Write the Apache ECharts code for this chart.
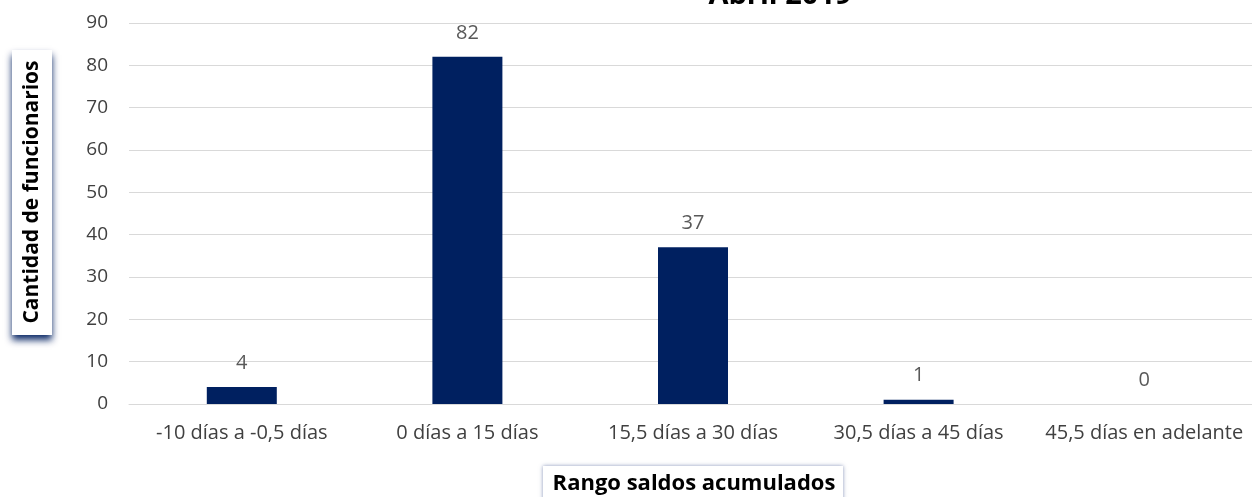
<!DOCTYPE html>
<html><head><meta charset="utf-8">
<script src="https://cdn.jsdelivr.net/npm/echarts@6/dist/echarts.min.js"></script>
<style>html,body{margin:0;padding:0;background:#fff}#c{width:1252px;height:497px}</style>
</head><body><div id="c"></div>
<script>
const categories = ['-10 días a -0,5 días','0 días a 15 días','15,5 días a 30 días','30,5 días a 45 días','45,5 días en adelante'];
const values = [4, 82, 37, 1, 0];
const yTicks = {min: 0, max: 90, interval: 10};
const titleText = 'Abril 2019';
const yName = 'Cantidad de funcionarios';
const xName = 'Rango saldos acumulados';
const F = '"Open Sans", sans-serif';
const chart = echarts.init(document.getElementById('c'));
chart.setOption({
  animation: false,
  grid: {left: 129, top: 23, bottom: 93, right: -5, outerBoundsMode: 'none'},
  xAxis: {type: 'category', data: categories,
    axisLine: {lineStyle: {color: '#d9d9d9'}}, axisTick: {show: false},
    axisLabel: {color: '#404040', fontSize: 20, fontFamily: F, margin: 19, interval: 0, hideOverlap: false}},
  yAxis: {type: 'value', min: yTicks.min, max: yTicks.max, interval: yTicks.interval,
    axisLine: {show: false}, axisTick: {show: false},
    splitLine: {lineStyle: {color: '#d9d9d9', width: 1}},
    axisLabel: {color: '#404040', fontSize: 19, fontFamily: F, margin: 21}},
  series: [{type: 'bar', data: values, barWidth: 70,
    itemStyle: {color: '#002060'},
    label: {show: true, position: 'top', distance: 14, color: '#595959', fontSize: 20, fontFamily: F}}],
  graphic: [
    {type: 'text', x: 780, y: -4, style: {text: titleText, font: 'bold 29px ' + F, fill: '#000', align: 'center', verticalAlign: 'middle'}},
    {type: 'rect', shape: {x: 12, y: 50, width: 40, height: 285}, style: {fill: '#fff', shadowColor: 'rgba(0,32,96,0.95)', shadowBlur: 7, shadowOffsetY: 5, shadowOffsetX: 0}},
    {type: 'text', x: 32, y: 192, rotation: Math.PI/2, style: {text: yName, font: 'bold 21px ' + F, fill: '#000', align: 'center', verticalAlign: 'middle'}},
    {type: 'rect', shape: {x: 543, y: 466, width: 300, height: 40}, style: {fill: '#fff', shadowColor: 'rgba(60,80,140,0.6)', shadowBlur: 4}},
    {type: 'text', x: 694, y: 484, style: {text: xName, font: 'bold 22px ' + F, fill: '#000', align: 'center', verticalAlign: 'middle'}}
  ]
});
</script></body></html>
